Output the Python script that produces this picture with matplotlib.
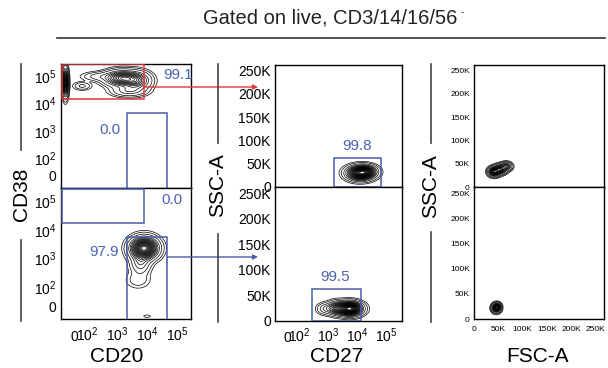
import numpy as np
import matplotlib
matplotlib.use("Agg")
import matplotlib.pyplot as plt
from matplotlib.patches import Rectangle, FancyArrowPatch
from matplotlib.lines import Line2D

plt.rcParams['font.family'] = ['Liberation Sans', 'DejaVu Sans']
plt.rcParams['mathtext.fontset'] = 'custom'
plt.rcParams['mathtext.rm'] = 'Liberation Sans'
plt.rcParams['mathtext.it'] = 'Liberation Sans:italic'
plt.rcParams['mathtext.bf'] = 'Liberation Sans:bold'

# ─── Axis definitions ────────────────────────────────────────────────────────
log_ticks = [0, 1e2, 1e3, 1e4, 1e5]
log_ticklabels = ['$0$', '$10^2$', '$10^3$', '$10^4$', '$10^5$']
lin_ticks = [0, 50000, 100000, 150000, 200000, 250000]
lin_ticklabels = ['0', '50K', '100K', '150K', '200K', '250K']

cd20_lim = (-117, 2.93e5)
cd38_lim = (-68, 2.9e5)
cd27_lim = (-112, 3.5e5)
ssc_lim = (0, 262144)
fsc_lim = (0, 268000)

# ─── Gate frequencies (%) ────────────────────────────────────────────────────
freq_pb = '99.1'          # CD38hi CD20lo, top row
freq_pb_bcell = '0.0'     # CD20+ gate, top row
freq_bc_pb = '0.0'        # CD38hi gate, bottom row
freq_bc = '97.9'          # CD20+ gate, bottom row
freq_pb_cd27 = '99.8'
freq_bc_cd27 = '99.5'

# ─── Gates (x0, x1, y0, y1) in data units ────────────────────────────────────
gate_pb = (-110, 7900, 15500, 2.8e5)
gate_pb_bcell = (2150, 46000, 4500, -300)
gate_bc_pb = (-110, 7900, 17400, 2.7e5)
gate_bc = (2150, 46000, -300, 5700)
gate_pb_cd27 = (1550, 66000, 0, 62500)
gate_bc_cd27 = (270, 13500, 0, 63000)

# ─── Populations: (x, y, sd_x, sd_y, weight); sd in axis-scale units ─────────
# (symlog axes: 100 units = one decade; linear axes: data units)
pop_cd20_cd38_pb = [
    (1500, 8.5e4, 30, 15, 1.0),
    (4500, 7.0e4, 24, 17, 0.6),
    (2500, 3.0e4, 30, 11, 0.25),
    (300, 1.0e5, 32, 9, 0.12),
    (60, 4.5e4, 16, 8, 0.08),
    (-80, 6.0e4, 5, 26, 1.3),
]
pop_cd20_cd38_bc = [
    (8000, 2300, 24, 20, 1.0),
    (6000, 700, 18, 22, 0.15),
    (5000, 180, 22, 16, 0.04),
    (10000, -53, 8, 3, 0.02),
]
pop_cd27_ssc_pb = [
    (12300, 30000, 24, 8000, 1.0),
    (20000, 33000, 20, 7000, 0.5),
]
pop_cd27_ssc_bc = [
    (5500, 24000, 22, 7000, 1.0),
    (2000, 25000, 18, 7000, 0.35),
    (800, 24000, 16, 6000, 0.1),
]
pop_fsc_ssc_pb = [
    (42000, 33000, 6000, 5000, 1.0),
    (54000, 38000, 6500, 5000, 0.8),
    (66000, 44000, 6000, 4500, 0.45),
]
pop_fsc_ssc_bc = [
    (46000, 22000, 4500, 4500, 1.0),
    (49000, 25000, 3500, 3500, 0.4),
]

RED = '#e3343b'
BLUE = '#4a5ca8'
TXT_BLUE = '#4a62b0'

W, H = 608, 368


def box(x0, y0, x1, y1):
    """pixel box (top-left origin) -> figure fraction rect"""
    return [x0 / W, 1 - y1 / H, (x1 - x0) / W, (y1 - y0) / H]


def fig_xy(x, y):
    return (x / W, 1 - y / H)


def add_density(ax, comps, n_levels=16):
    tx = ax.xaxis.get_transform()
    ty = ax.yaxis.get_transform()
    gx = np.linspace(*tx.transform(np.array(ax.get_xlim())), 320)
    gy = np.linspace(*ty.transform(np.array(ax.get_ylim())), 320)
    GX, GY = np.meshgrid(gx, gy)
    Z = np.zeros_like(GX)
    for cx, cy, sx, sy, w in comps:
        mx = tx.transform(np.array([cx]))[0]
        my = ty.transform(np.array([cy]))[0]
        Z += w * np.exp(-0.5 * (((GX - mx) / sx) ** 2 + ((GY - my) / sy) ** 2))
    X = tx.inverted().transform(gx)
    Y = ty.inverted().transform(gy)
    levels = Z.max() * np.concatenate([[0.008, 0.02], np.linspace(0.05, 0.95, n_levels)])
    ax.contour(X, Y, Z, levels=levels, colors='black', linewidths=0.5)


def add_gate(ax, gate, color):
    x0, x1, y0, y1 = gate
    ax.add_patch(Rectangle((x0, y0), x1 - x0, y1 - y0, fill=False,
                           edgecolor=color, linewidth=1.1, zorder=3))


def style(ax, xscale, xlim, xticks, xlabels, yscale, ylim, yticks, ylabels,
          show_x, fs, xpad=3):
    if xscale == 'symlog':
        ax.set_xscale('symlog', linthresh=100, linscale=0.36)
    if yscale == 'symlog':
        ax.set_yscale('symlog', linthresh=100, linscale=0.594)
    ax.set_xlim(*xlim)
    ax.set_ylim(*ylim)
    ax.set_xticks(xticks)
    if xscale == 'symlog':
        # align "0" and the powers of ten on one baseline
        ax.set_xticklabels(xlabels if show_x else [], va='baseline')
    else:
        ax.set_xticklabels(xlabels if show_x else [])
    ax.set_yticks(yticks)
    ax.set_yticklabels(ylabels)
    ax.minorticks_off()
    ax.tick_params(length=0, pad=3, labelsize=fs)
    ax.tick_params(axis='x', pad=xpad)
    for s in ax.spines.values():
        s.set_linewidth(1.0)


fig = plt.figure(figsize=(W / 100, H / 100), dpi=100)

# ─── Left column: CD20 vs CD38 ───────────────────────────────────────────────
ax_lt = fig.add_axes(box(61, 64, 191, 188))
ax_lb = fig.add_axes(box(61, 188, 191, 319))
for ax, show in [(ax_lt, False), (ax_lb, True)]:
    style(ax, 'symlog', cd20_lim, log_ticks, log_ticklabels,
          'symlog', cd38_lim, log_ticks, log_ticklabels, show, 10, xpad=16)

add_density(ax_lt, pop_cd20_cd38_pb, 13)
add_gate(ax_lt, gate_pb, RED)
add_gate(ax_lt, gate_pb_bcell, BLUE)
ax_lt.text(0.90, 0.91, freq_pb, transform=ax_lt.transAxes, color=TXT_BLUE,
           fontsize=11, ha='center', va='center')
ax_lt.text(0.377, 0.47, freq_pb_bcell, transform=ax_lt.transAxes, color=TXT_BLUE,
           fontsize=11, ha='center', va='center')

add_density(ax_lb, pop_cd20_cd38_bc, 18)
add_gate(ax_lb, gate_bc_pb, BLUE)
add_gate(ax_lb, gate_bc, BLUE)
ax_lb.text(0.854, 0.905, freq_bc_pb, transform=ax_lb.transAxes, color=TXT_BLUE,
           fontsize=11, ha='center', va='center')
ax_lb.text(0.33, 0.51, freq_bc, transform=ax_lb.transAxes, color=TXT_BLUE,
           fontsize=11, ha='center', va='center')

# ─── Middle column: CD27 vs SSC-A ────────────────────────────────────────────
ax_mt = fig.add_axes(box(275, 65, 402, 187))
ax_mb = fig.add_axes(box(275, 187, 402, 321))
for ax, show in [(ax_mt, False), (ax_mb, True)]:
    style(ax, 'symlog', cd27_lim, log_ticks, log_ticklabels,
          'linear', ssc_lim, lin_ticks, lin_ticklabels, show, 10, xpad=15)

add_density(ax_mt, pop_cd27_ssc_pb, 22)
add_gate(ax_mt, gate_pb_cd27, BLUE)
ax_mt.text(0.646, 0.336, freq_pb_cd27, transform=ax_mt.transAxes, color=TXT_BLUE,
           fontsize=11, ha='center', va='center')

add_density(ax_mb, pop_cd27_ssc_bc, 22)
add_gate(ax_mb, gate_bc_cd27, BLUE)
ax_mb.text(0.47, 0.328, freq_bc_cd27, transform=ax_mb.transAxes, color=TXT_BLUE,
           fontsize=11, ha='center', va='center')

# ─── Right column: FSC-A vs SSC-A ────────────────────────────────────────────
ax_rt = fig.add_axes(box(474, 65, 604, 187))
ax_rb = fig.add_axes(box(474, 187, 604, 319))
for ax, show in [(ax_rt, False), (ax_rb, True)]:
    style(ax, 'linear', fsc_lim, lin_ticks, lin_ticklabels,
          'linear', ssc_lim, lin_ticks, lin_ticklabels, show, 6, xpad=5)

add_density(ax_rt, pop_fsc_ssc_pb, 14)
add_density(ax_rb, pop_fsc_ssc_bc, 14)

# ─── Axis titles with the broken guide lines ─────────────────────────────────
guide = dict(color='#444444', linewidth=1.2)
for x, segs in [(21, [(64, 150), (240, 321)]),
                (218, [(64, 143), (234, 322)]),
                (431, [(64, 143), (232, 322)])]:
    for y0, y1 in segs:
        fig.add_artist(Line2D([x / W, x / W], [1 - y0 / H, 1 - y1 / H], **guide))

fig.text(*fig_xy(21, 194), 'CD38', rotation=90, ha='center', va='center', fontsize=15)
fig.text(*fig_xy(218, 185), 'SSC-A', rotation=90, ha='center', va='center', fontsize=15)
fig.text(*fig_xy(431, 186), 'SSC-A', rotation=90, ha='center', va='center', fontsize=15)
fig.text(*fig_xy(117, 356), 'CD20', ha='center', va='center', fontsize=15)
fig.text(*fig_xy(337, 357), 'CD27', ha='center', va='center', fontsize=15)
fig.text(*fig_xy(537, 357), 'FSC-A', ha='center', va='center', fontsize=15)

# ─── Header ──────────────────────────────────────────────────────────────────
fig.text(*fig_xy(330, 18), 'Gated on live, CD3/14/16/56', ha='center', va='center',
         fontsize=14.5, color='#222222')
fig.text(*fig_xy(461, 12), '-', ha='left', va='center', fontsize=7, color='#222222')
fig.add_artist(Line2D([57 / W, 605 / W], [1 - 38 / H] * 2, color='#333333', linewidth=1.2))

# ─── Arrows between gates ────────────────────────────────────────────────────
for (xa, ya), (xb, yb), col in [((144, 87), (258, 87), RED),
                                ((167, 257), (258, 257), BLUE)]:
    fig.add_artist(FancyArrowPatch(fig_xy(xa, ya), fig_xy(xb, yb),
                                   transform=fig.transFigure, arrowstyle='-|>',
                                   mutation_scale=7, color=col, linewidth=1.0,
                                   shrinkA=0, shrinkB=0))

fig.savefig('out.png', dpi=100)
